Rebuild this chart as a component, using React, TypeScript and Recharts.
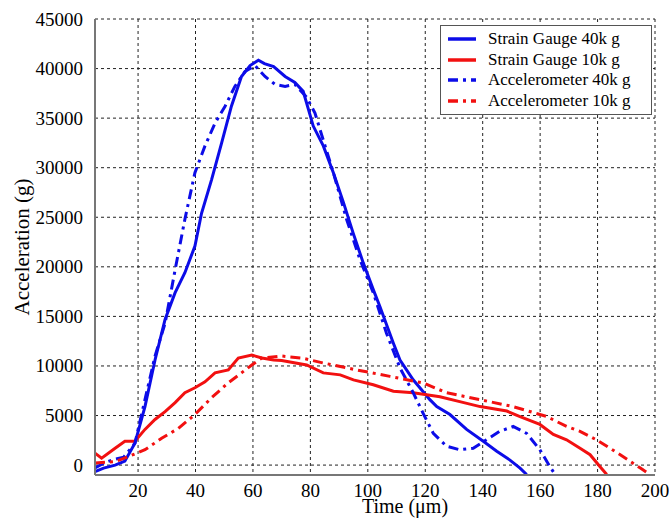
import React from 'react';
import {
  LineChart,
  Line,
  XAxis,
  YAxis,
  CartesianGrid,
  Legend,
  Label,
} from 'recharts';

// Strain gauge, 40k g shot
const sg40Time = [5, 8, 12, 15.4, 18.9, 22.4, 25.9, 29.4, 32.9, 36.3, 39.8, 42.1, 45.6, 49.1, 52.5, 56, 59, 61.9, 64, 67.2, 71.2, 74.6, 77.5, 81, 84.5, 88, 91.5, 94.9, 98.4, 101.9, 104.2, 108.9, 111.2, 115.8, 121.6, 124, 128.6, 134.4, 140.2, 144.9, 149.5, 153, 155.3];
const sg40Accel = [-650, -300, 0, 400, 2200, 5900, 10600, 14700, 17400, 19400, 22100, 25400, 28800, 32500, 36200, 39200, 40300, 40850, 40500, 40200, 39200, 38600, 37700, 34200, 32200, 29500, 26500, 23400, 20400, 17700, 16000, 12300, 10600, 8600, 6600, 5900, 5100, 3600, 2400, 1400, 500, -300, -950];

// Accelerometer, 40k g shot
const acc40Time = [5, 8, 12, 15, 18.9, 22.4, 25.9, 29.4, 32.9, 36.3, 39.8, 43.3, 46.8, 50.3, 53.7, 57.2, 60.7, 64.2, 67.7, 71.2, 74.6, 78.7, 81.6, 83.3, 88, 92.6, 97.3, 101.9, 106.5, 111.2, 115.8, 119.3, 122.8, 127.4, 132, 136.7, 141.3, 145.9, 150.6, 155.3, 159.9, 163.4, 165.2];
const acc40Accel = [-300, 200, 600, 800, 2200, 6600, 11000, 14300, 19700, 24800, 29500, 32200, 34500, 36200, 38200, 39700, 40300, 39200, 38400, 38200, 38400, 37100, 35500, 33900, 29500, 24800, 20700, 17400, 13300, 9800, 7300, 5200, 3200, 1900, 1550, 1700, 2550, 3400, 3900, 3200, 1550, -150, -950];

// Strain gauge, 10k g shot
const sg10Time = [5, 7.3, 12, 15.4, 18.9, 22.4, 25.9, 29.4, 32.9, 36.3, 39.8, 43.3, 46.8, 51.4, 54.9, 59.6, 63.1, 67.2, 70, 78.7, 84.5, 90.4, 95, 101.9, 108.9, 115.8, 125.1, 132, 139.1, 148.4, 153, 159.9, 164.6, 169.2, 173.9, 177.4, 180.8, 183.2];
const sg10Accel = [1200, 700, 1700, 2400, 2400, 3600, 4600, 5400, 6300, 7300, 7800, 8400, 9300, 9600, 10800, 11100, 10800, 10600, 10550, 10100, 9300, 9100, 8600, 8100, 7450, 7300, 6900, 6400, 5900, 5450, 4900, 4100, 3100, 2550, 1700, 1050, -150, -950];

// Accelerometer, 10k g shot
const acc10Time = [5, 12, 16.6, 22.4, 28.2, 34, 39.8, 45.6, 51.4, 56, 59.6, 63.1, 70, 77, 84.5, 96.1, 107.7, 119.3, 127.4, 139.1, 150.6, 162.3, 169.2, 173.9, 179.6, 187.9, 194.9, 197.7];
const acc10Accel = [200, 350, 850, 1550, 2700, 3700, 5100, 6800, 8300, 9300, 10100, 10800, 11000, 10800, 10300, 9600, 8950, 8280, 7300, 6600, 5900, 4900, 3900, 3400, 2550, 1050, -300, -850];

const timeTicks = [20, 40, 60, 80, 100, 120, 140, 160, 180, 200];
const accelTicks = [0, 5000, 10000, 15000, 20000, 25000, 30000, 35000, 40000, 45000];

const BLUE = '#0c0ce8';
const RED = '#f21010';
const DASH_DOT = '10 5 3 5';
const FONT = "'Liberation Serif', 'Times New Roman', 'DejaVu Serif', serif";

const zip = (t: number[], v: number[]) => t.map((x, i) => ({ t: x, v: v[i] }));

const series = [
  { name: 'Strain Gauge 40k g', color: BLUE, dash: undefined, data: zip(sg40Time, sg40Accel) },
  { name: 'Strain Gauge 10k g', color: RED, dash: undefined, data: zip(sg10Time, sg10Accel) },
  { name: 'Accelerometer 40k g', color: BLUE, dash: DASH_DOT, data: zip(acc40Time, acc40Accel) },
  { name: 'Accelerometer 10k g', color: RED, dash: DASH_DOT, data: zip(acc10Time, acc10Accel) },
];

function LegendBox() {
  return (
    <div
      style={{
        border: '1.5px solid #555',
        background: '#fff',
        padding: '3px 8px 3px 7px',
        fontFamily: FONT,
        fontSize: 17,
        color: '#000',
        width: 195,
      }}
    >
      {series.map((s) => (
        <div key={s.name} style={{ display: 'flex', alignItems: 'center', height: 20.5 }}>
          <svg width={28} height={8} style={{ marginRight: 12 }}>
            <line x1={0} y1={4} x2={28} y2={4} stroke={s.color} strokeWidth={3.5} strokeDasharray={s.dash} />
          </svg>
          <span>{s.name}</span>
        </div>
      ))}
    </div>
  );
}

function XTick(props: any) {
  const { x, y, payload } = props;
  return (
    <text x={x} y={y + 14} textAnchor="middle" style={{ fontFamily: FONT, fontSize: 19 }} fill="#000">
      {payload.value}
    </text>
  );
}

function YTick(props: any) {
  const { x, y, payload } = props;
  return (
    <text x={95 - 12} y={y + 6.5} textAnchor="end" style={{ fontFamily: FONT, fontSize: 19 }} fill="#000">
      {payload.value}
    </text>
  );
}

function XLabel(props: any) {
  const vb = props.viewBox || { x: 0, y: 0, width: 0, height: 0 };
  return (
    <text x={vb.x + vb.width / 2 + 30} y={vb.y + 38} textAnchor="middle" style={{ fontFamily: FONT, fontSize: 20 }} fill="#000">
      Time (μm)
    </text>
  );
}

function YLabel(props: any) {
  const vb = props.viewBox || { x: 0, y: 0, width: 0, height: 0 };
  const cx = vb.x + 22;
  const cy = vb.y + vb.height / 2;
  return (
    <text
      x={cx}
      y={cy}
      transform={`rotate(-90, ${cx}, ${cy})`}
      textAnchor="middle"
      dominantBaseline="central"
      style={{ fontFamily: FONT, fontSize: 21 }}
      fill="#000"
    >
      Acceleration (g)
    </text>
  );
}

export default function App() {
  return (
    <div style={{ position: 'absolute', left: 0, top: 0, background: '#fff', fontFamily: FONT }}>
      <LineChart width={669} height={518} margin={{ top: 19, right: 14, bottom: 0, left: 0 }}>
        <CartesianGrid stroke="#222" strokeDasharray="3 3" strokeWidth={1} />
        <XAxis
          dataKey="t"
          type="number"
          domain={[5, 200]}
          ticks={timeTicks}
          allowDataOverflow
          height={43}
          tickLine={false}
          axisLine={{ stroke: '#777', strokeWidth: 2 }}
          tick={<XTick />}
          label={<XLabel />}
        />
        <XAxis
          xAxisId="top"
          orientation="top"
          type="number"
          domain={[0, 1]}
          height={0}
          tick={false}
          tickLine={false}
          axisLine={{ stroke: '#777', strokeWidth: 2 }}
        />
        <YAxis
          type="number"
          domain={[-1000, 45000]}
          ticks={accelTicks}
          allowDataOverflow
          width={95}
          tickLine={false}
          axisLine={{ stroke: '#777', strokeWidth: 2 }}
          tick={<YTick />}
          label={<YLabel />}
        />
        <YAxis
          yAxisId="right"
          orientation="right"
          type="number"
          domain={[0, 1]}
          width={0}
          tick={false}
          tickLine={false}
          axisLine={{ stroke: '#777', strokeWidth: 2 }}
        />
        <Legend
          layout="vertical"
          align="center"
          verticalAlign="middle"
          wrapperStyle={{ top: 25, left: 440, width: 212 }}
          content={() => <LegendBox />}
        />
        {series.map((s) => (
          <Line
            key={s.name}
            name={s.name}
            data={s.data}
            dataKey="v"
            type="linear"
            stroke={s.color}
            strokeWidth={3}
            strokeDasharray={s.dash}
            dot={false}
            activeDot={false}
            isAnimationActive={false}
          />
        ))}
      </LineChart>
    </div>
  );
}
